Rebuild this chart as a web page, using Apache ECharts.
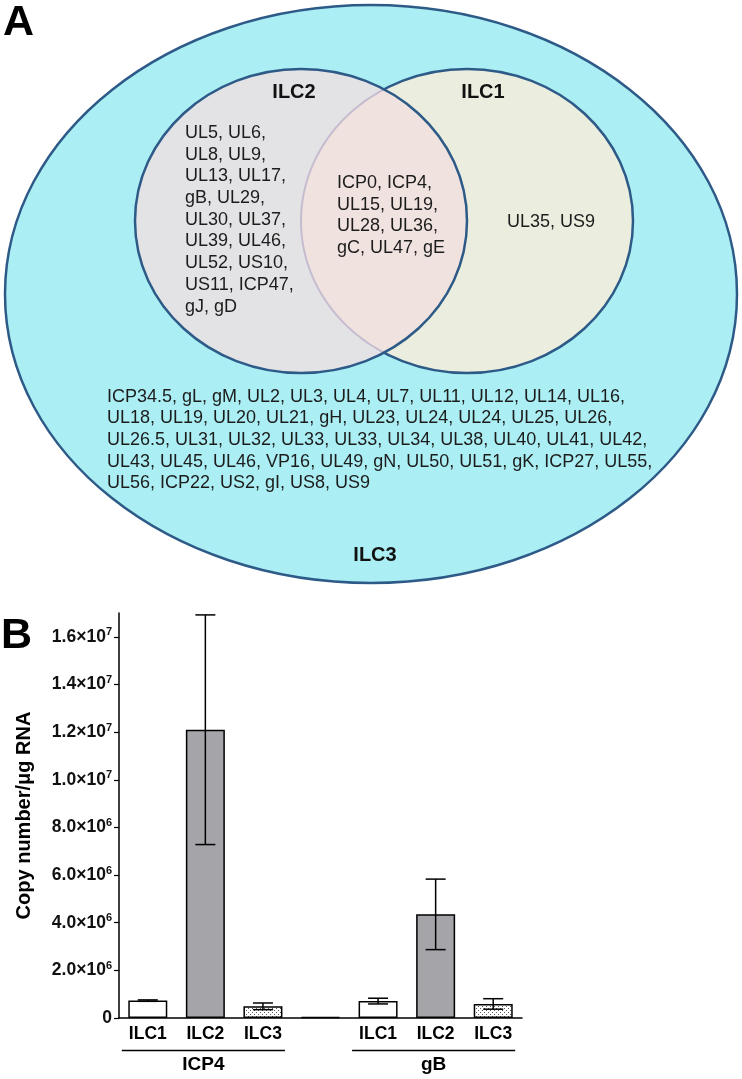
<!DOCTYPE html>
<html><head><meta charset="utf-8">
<script src="https://cdn.jsdelivr.net/npm/echarts@6/dist/echarts.min.js"></script>
<style>html,body{margin:0;padding:0;background:#fff}#c{width:742px;height:1079px}</style>
</head><body><div id="c"></div>
<script>
// ---------- Panel A data: gene sets ----------
const ilc2Only = ['UL5','UL6','UL8','UL9','UL13','UL17','gB','UL29','UL30','UL37','UL39','UL46','UL52','US10','US11','ICP47','gJ','gD'];
const ilc1And2 = ['ICP0','ICP4','UL15','UL19','UL28','UL36','gC','UL47','gE'];
const ilc1Only = ['UL35','US9'];
const ilc3Only = ['ICP34.5','gL','gM','UL2','UL3','UL4','UL7','UL11','UL12','UL14','UL16',
  'UL18','UL19','UL20','UL21','gH','UL23','UL24','UL24','UL25','UL26',
  'UL26.5','UL31','UL32','UL33','UL33','UL34','UL38','UL40','UL41','UL42',
  'UL43','UL45','UL46','VP16','UL49','gN','UL50','UL51','gK','ICP27','UL55',
  'UL56','ICP22','US2','gI','US8','US9'];
const setNames = ['ILC2','ILC1','ILC3'];

// ---------- Panel B data ----------
const categories = ['ILC1','ILC2','ILC3','','ILC1','ILC2','ILC3'];
const means  = [7.3e5, 1.21e7, 4.9e5, 4e4, 7.1e5, 4.35e6, 5.9e5];
const errors = [3e4, 4.82e6, 1.4e5, 0, 1.2e5, 1.48e6, 2.2e5];
const groupNames = ['ICP4','gB'];
const groupRanges = [[0,2],[4,6]];
const yTicks = [0,2e6,4e6,6e6,8e6,1e7,1.2e7,1.4e7,1.6e7];
const yTitle = 'Copy number/\u03bcg RNA';

// ---------- layout ----------
const FONT = '"Liberation Sans", Arial, Helvetica, sans-serif';
const L = {
  outer: {cx: 371, cy: 294, rx: 366, ry: 289},
  c2: {cx: 301, cy: 221, rx: 166, ry: 152},
  c1: {cx: 467, cy: 221, rx: 166, ry: 152},
  lineH: 21.7,
  ilc2Text: {x: 185, y: 133, per: [2,2,2,2,2,2,2,2,2]},
  bothText: {x: 337, y: 183, per: [2,2,2,3]},
  ilc1Text: {x: 551, y: 222},
  ilc3Text: {x: 107, y: 396.7, per: [11,10,10,11,6]},
  lab2: {x: 294, y: 92}, lab1: {x: 483, y: 92}, lab3: {x: 375, y: 555}
};
const STROKE = '#2e5a88';

function chunkLines(arr, per) {
  const lines = []; let k = 0;
  per.forEach((n, i) => {
    const part = arr.slice(k, k + n); k += n;
    lines.push(part.join(', ') + (i < per.length - 1 ? ',' : ''));
  });
  return lines.join('\n');
}
function arcPts(e, t0, t1, n) {
  const pts = [];
  for (let i = 0; i <= n; i++) {
    const t = t0 + (t1 - t0) * i / n;
    pts.push([e.cx + e.rx * Math.cos(t), e.cy + e.ry * Math.sin(t)]);
  }
  return pts;
}

function vennGraphics() {
  const {outer, c1, c2} = L;
  const xs = (c1.cx + c2.cx) / 2;
  const a = Math.acos((xs - c2.cx) / c2.rx);
  const b = Math.acos((xs - c1.cx) / c1.rx);
  const lens = arcPts(c2, -a, a, 80).concat(arcPts(c1, b, 2 * Math.PI - b, 80));
  const c1Left = arcPts(c1, b, 2 * Math.PI - b, 80);
  const txt = (x, y, text, opt) => ({type: 'text', x, y, style: Object.assign({text, fill: '#1c1c1c', font: '18px ' + FONT, lineHeight: L.lineH, textVerticalAlign: 'top'}, opt || {})});
  const els = [
    {type: 'ellipse', shape: outer, style: {fill: '#abeef3', stroke: STROKE, lineWidth: 2.5}},
    {type: 'ellipse', shape: c1, style: {fill: '#ebeede', stroke: STROKE, lineWidth: 2.5}},
    {type: 'ellipse', shape: c2, style: {fill: '#e3e3e5', stroke: null}},
    {type: 'polygon', shape: {points: lens}, style: {fill: '#f0e3df', stroke: null}},
    {type: 'polyline', shape: {points: c1Left}, style: {stroke: '#c6bccf', lineWidth: 2, fill: null}},
    {type: 'ellipse', shape: c2, style: {fill: null, stroke: STROKE, lineWidth: 2.5}},
    txt(L.ilc2Text.x, L.ilc2Text.y - L.lineH / 2, chunkLines(ilc2Only, L.ilc2Text.per)),
    txt(L.bothText.x, L.bothText.y - L.lineH / 2, chunkLines(ilc1And2, L.bothText.per)),
    txt(L.ilc1Text.x, L.ilc1Text.y, ilc1Only.join(', '), {textAlign: 'center', textVerticalAlign: 'middle'}),
    txt(L.ilc3Text.x, L.ilc3Text.y - L.lineH / 2, chunkLines(ilc3Only, L.ilc3Text.per)),
    txt(L.lab2.x, L.lab2.y, setNames[0], {font: 'bold 20px ' + FONT, fill: '#111', textAlign: 'center', textVerticalAlign: 'middle'}),
    txt(L.lab1.x, L.lab1.y, setNames[1], {font: 'bold 20px ' + FONT, fill: '#111', textAlign: 'center', textVerticalAlign: 'middle'}),
    txt(L.lab3.x, L.lab3.y, setNames[2], {font: 'bold 20px ' + FONT, fill: '#111', textAlign: 'center', textVerticalAlign: 'middle'}),
    {type: 'text', x: 3, y: 23, style: {text: 'A', font: 'bold 43px ' + FONT, fill: '#000', textVerticalAlign: 'middle'}},
    {type: 'text', x: 1, y: 636, style: {text: 'B', font: 'bold 43px ' + FONT, fill: '#000', textVerticalAlign: 'middle'}}
  ];
  return els;
}

// dotted pattern for ILC3 bars
const pc = document.createElement('canvas'); pc.width = 4; pc.height = 4;
const pctx = pc.getContext('2d');
pctx.fillStyle = '#ffffff'; pctx.fillRect(0, 0, 4, 4);
pctx.fillStyle = '#5a5a5a'; pctx.fillRect(0, 0, 1, 1); pctx.fillRect(2, 2, 1, 1);
const fills = {ILC1: '#ffffff', ILC2: '#a4a4a9', ILC3: {image: pc, repeat: 'repeat'}, '': '#ffffff'};

function fmtY(v) {
  if (v === 0) return '{n|0}';
  const e = Math.floor(Math.log10(v) + 1e-9);
  const m = v / Math.pow(10, e);
  return '{n|' + m.toFixed(1) + '\u00d710}{s|' + e + '}';
}

const chart = echarts.init(document.getElementById('c'), null, {renderer: 'canvas'});
const option = {
  animation: false,
  backgroundColor: '#fff',
  grid: {left: 119, right: 220, top: 613, bottom: 61, containLabel: false},
  xAxis: {
    type: 'category', data: categories,
    axisLine: {lineStyle: {color: '#000', width: 1.5}},
    axisTick: {alignWithLabel: true, length: 5, lineStyle: {color: '#000', width: 1.2}},
    axisLabel: {interval: 0, margin: 7, color: '#000', fontFamily: FONT, fontWeight: 'bold', fontSize: 17.5}
  },
  yAxis: {
    type: 'value', min: 0, max: 1.7e7, interval: 2e6,
    name: yTitle, nameLocation: 'middle', nameGap: 85, nameRotate: 90,
    nameTextStyle: {fontFamily: FONT, fontWeight: 'bold', fontSize: 20, color: '#000'},
    splitLine: {show: false},
    axisLine: {show: true, lineStyle: {color: '#000', width: 1.5}},
    axisTick: {show: true, length: 5, customValues: yTicks, lineStyle: {color: '#000', width: 1.2}},
    axisLabel: {
      customValues: yTicks, margin: 7, formatter: fmtY,
      rich: {
        n: {fontFamily: FONT, fontWeight: 'bold', fontSize: 17.5, color: '#111', lineHeight: 20},
        s: {fontFamily: FONT, fontWeight: 'bold', fontSize: 11, color: '#111', lineHeight: 12, verticalAlign: 'top'}
      }
    }
  },
  series: [
    {
      type: 'bar', barWidth: 39, z: 2,
      data: means.map((v, i) => ({value: v, itemStyle: {color: fills[categories[i]], borderColor: '#000', borderWidth: 1.5}}))
    },
    {
      type: 'custom', z: 5,
      data: means.map((v, i) => [i, v, errors[i]]).filter(d => d[2] > 0),
      encode: {x: 0, y: 1},
      renderItem: function (params, api) {
        const i = api.value(0), m = api.value(1), e = api.value(2);
        const top = api.coord([i, m + e]);
        const bot = api.coord([i, m - e]);
        const hw = 10;
        const st = {stroke: '#000', lineWidth: 1.5};
        return {type: 'group', children: [
          {type: 'line', shape: {x1: top[0], y1: top[1], x2: bot[0], y2: bot[1]}, style: st},
          {type: 'line', shape: {x1: top[0] - hw, y1: top[1], x2: top[0] + hw, y2: top[1]}, style: st},
          {type: 'line', shape: {x1: bot[0] - hw, y1: bot[1], x2: bot[0] + hw, y2: bot[1]}, style: st}
        ]};
      }
    }
  ],
  graphic: {elements: vennGraphics()}
};
chart.setOption(option);

// group brackets below the category axis
const zeroY = chart.convertToPixel({yAxisIndex: 0}, 0);
const groupEls = [];
groupRanges.forEach((r, gi) => {
  const x0 = chart.convertToPixel({xAxisIndex: 0}, r[0]) - 26;
  const x1 = chart.convertToPixel({xAxisIndex: 0}, r[1]) + 22;
  groupEls.push({type: 'line', shape: {x1: x0, y1: zeroY + 32.5, x2: x1, y2: zeroY + 32.5}, style: {stroke: '#000', lineWidth: 1.5}});
  groupEls.push({type: 'text', x: (x0 + x1) / 2, y: zeroY + 47, style: {text: groupNames[gi], font: 'bold 19px ' + FONT, fill: '#000', textAlign: 'center', textVerticalAlign: 'middle'}});
});
chart.setOption({graphic: {elements: vennGraphics().concat(groupEls)}});
</script>
</body></html>
